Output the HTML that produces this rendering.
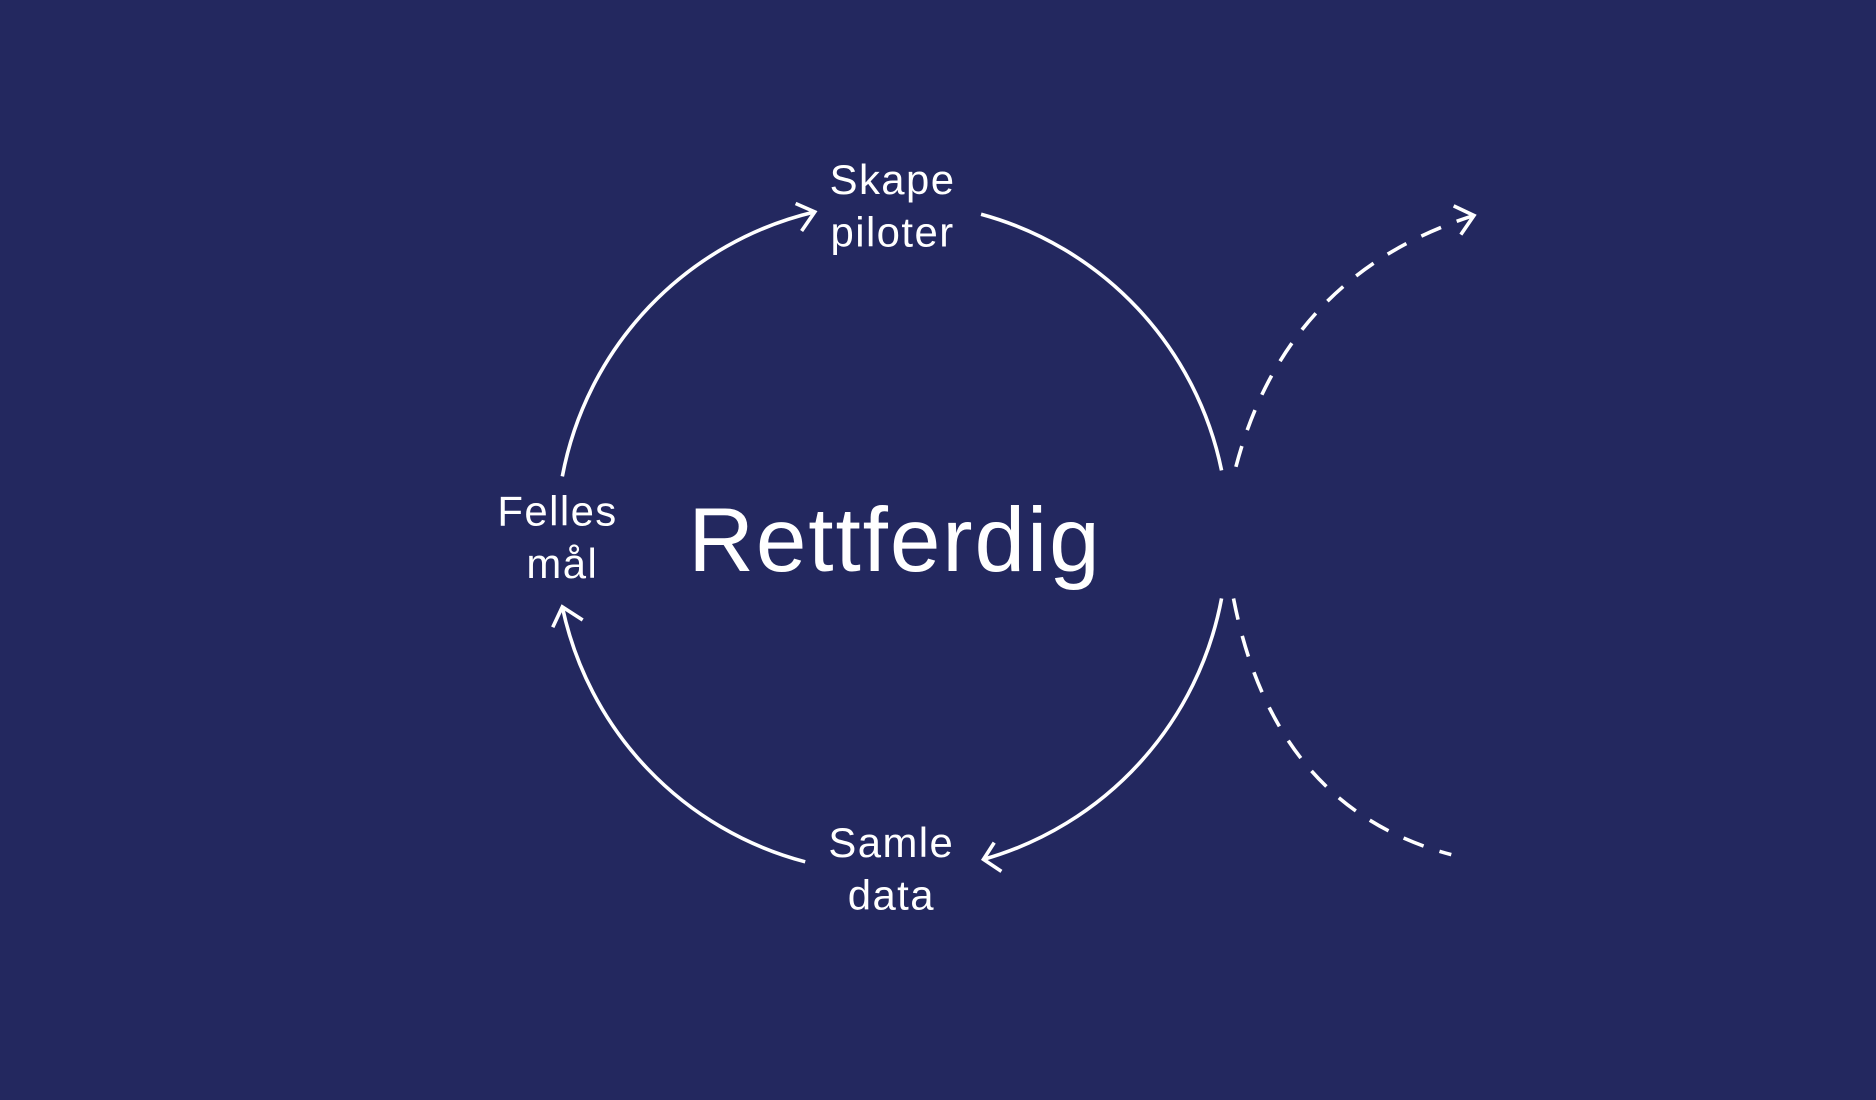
<!DOCTYPE html>
<html><head><meta charset="utf-8"><style>
html,body{margin:0;padding:0;background:#23285f;}
svg{display:block;}
text{font-family:"Liberation Sans",sans-serif;fill:#fff;text-anchor:middle;}
</style></head><body>
<svg width="1876" height="1100" viewBox="0 0 1568 919" preserveAspectRatio="none" xmlns="http://www.w3.org/2000/svg">
<rect width="1568" height="919" fill="#23285f"/>
<g fill="none" stroke="#fff" stroke-width="3">
<path d="M470,398 A280,280 0 0 1 681,177"/>
<path d="M665,170 L681,177 L670,193"/>
<path d="M820,179 A280,280 0 0 1 1021,393"/>
<path d="M1021,500 A280,280 0 0 1 822,718"/>
<path d="M831,704 L822,718 L837,728"/>
<path d="M673,720 A280,280 0 0 1 470,507"/>
<path d="M462,524 L470,507 L487,518"/>
<path d="M1033,390 Q1075,230 1232,180" stroke-dasharray="18,14"/>
<path d="M1215,172 L1232,180 L1221,196"/>
<path d="M1031,500 Q1065,675 1213,714" stroke-dasharray="18,14"/>
</g>
<text x="748" y="477" font-size="76" letter-spacing="1.6">Rettferdig</text>
<text x="746" y="162" font-size="35" letter-spacing="1.2">Skape</text>
<text x="746" y="206" font-size="35" letter-spacing="1.2">piloter</text>
<text x="466" y="439" font-size="35" letter-spacing="1.2">Felles</text>
<text x="470" y="483" font-size="35" letter-spacing="1.2">mål</text>
<text x="745" y="716" font-size="35" letter-spacing="1.2">Samle</text>
<text x="745" y="760" font-size="35" letter-spacing="1.2">data</text>
</svg>
</body></html>
